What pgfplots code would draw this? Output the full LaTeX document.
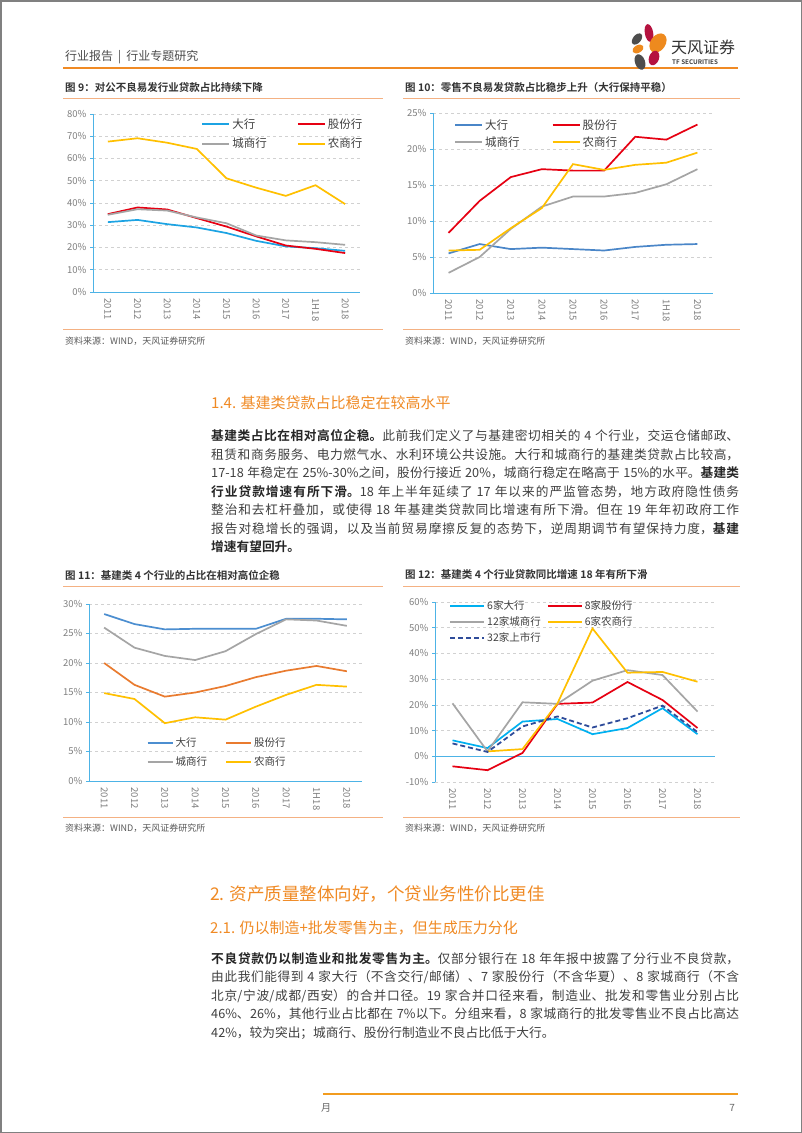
\documentclass[border=0pt]{standalone}
\usepackage{pgfplots}
\pgfplotsset{compat=1.18}
\usepackage{fontspec}
\setmainfont{Noto Sans CJK SC}[BoldFont={Noto Sans CJK SC Bold}]
\XeTeXlinebreaklocale "zh"
\XeTeXlinebreakskip=0pt plus 1.5pt
\definecolor{axblue}{HTML}{4DB3E6}
\definecolor{labgray}{HTML}{7F7F7F}
\definecolor{txtgray}{HTML}{404040}
\definecolor{hdorange}{HTML}{F08A24}
\definecolor{sepor}{HTML}{F4B183}
\definecolor{cBlue9}{HTML}{1CA3E3}
\definecolor{cBlue}{HTML}{4A86C8}
\definecolor{cBlue11}{HTML}{4C8ED0}
\definecolor{cCyan}{HTML}{00B0F0}
\definecolor{cRed}{HTML}{E60012}
\definecolor{cGray}{HTML}{A5A5A5}
\definecolor{cYel}{HTML}{FFC000}
\definecolor{cOra}{HTML}{E97B2F}
\definecolor{cNavy}{HTML}{2F4C9A}
\definecolor{lgDark}{HTML}{4D4D4D}
\definecolor{lgCrim}{HTML}{B5123F}
\definecolor{lgOra}{HTML}{EE8A1E}
\pgfplotsset{
  pagechart/.style={
    scale only axis, anchor=south west,
    axis lines=left, axis line style={axblue, line width=0.9pt, -},
    ymajorgrids, grid style={dashed, black!18, line width=0.6pt},
    ytick style={axblue, line width=0.7pt}, major tick length=3pt, tick align=outside,
    xtick style={draw=none},
    minor x tick style={axblue, line width=0.7pt}, minor tick length=4pt,
    ticklabel style={font=\fontsize{9.5}{10}\selectfont, text=labgray},
    /pgf/number format/assume math mode=true,
    x tick label style={rotate=-90, anchor=west},
    yticklabel={\pgfmathprintnumber{\tick}\%},
    legend cell align=left,
    legend style={draw=none, fill=none, inner sep=0pt, text=txtgray},
    every axis plot/.append style={line width=1.7pt, no marks},
  }
}
\newcommand\B[1]{{\bfseries\color{black!85}#1}}
\newcommand\parafont{\fontsize{12.7}{18.5}\selectfont\spaceskip=0.28em plus 0.05em minus 0.05em\relax}
\tikzset{para/.style={anchor=north west, inner sep=0pt, text width=528pt, align=justify, text=txtgray}}
\begin{document}
\begin{tikzpicture}[x=1pt,y=-1pt]
\path[use as bounding box] (0,0) rectangle (802,1133);
\fill[white] (0,0) rectangle (802,1133);
\draw[black!50, line width=1.5pt] (0.75,0.75) rectangle (801.25,1132.25);
% header
\node[anchor=west, inner sep=0pt, text=black!70, font=\fontsize{12}{13}\selectfont] at (65,57) {行业报告\hspace{5pt}|\hspace{5pt}行业专题研究};
\draw[hdorange, line width=1.3pt] (63,68) -- (738,68);
% logo
\fill[lgCrim, rotate around={10:(649,33)}] (649,33) ellipse (4.2 and 9);
\fill[lgDark, rotate around={-40:(637,39)}] (637,39) ellipse (4 and 6.5);
\fill[lgOra, rotate around={-35:(658,43)}] (658,43) ellipse (7.5 and 10.5);
\fill[lgOra, rotate around={-60:(638,49)}] (638,49) ellipse (3.8 and 6);
\fill[lgDark, rotate around={20:(640,62)}] (640,62) ellipse (5 and 8);
\fill[lgCrim, rotate around={-20:(654,58)}] (654,58) ellipse (5 and 7.5);
\node[anchor=west, inner sep=0pt, text=black!80, font=\fontsize{16}{17}\selectfont] at (671,47) {天风证券};
\node[anchor=west, inner sep=0pt, text=black!75, font=\bfseries\fontsize{6.3}{7}\selectfont] at (672,62) {TF SECURITIES};
% ---------- chart 9 ----------
\node[anchor=west, inner sep=0pt, text=black!80, font=\bfseries\fontsize{10.5}{11}\selectfont] at (65,88) {图 9：对公不良易发行业贷款占比持续下降};
\draw[sepor, line width=0.8pt] (63,98) -- (383,98);
\draw[sepor, line width=0.8pt] (63,329) -- (383,329);
\node[anchor=west, inner sep=0pt, text=black!65, font=\fontsize{9}{10}\selectfont] at (65,341) {资料来源：WIND，天风证券研究所};
\begin{axis}[pagechart, at={(93pt,-292pt)}, width=267pt, height=178pt,
  xmin=-0.5, xmax=8.5, ymin=0, ymax=80, ytick={0,10,...,80},
  xtick={0,...,8}, xticklabels={2011,2012,2013,2014,2015,2016,2017,1H18,2018},
  minor xtick={-0.5,0.5,...,8.5},
  legend columns=2,
  legend style={at={(0.405,0.985)}, anchor=north west, font=\fontsize{11.5}{12}\selectfont,
    /tikz/every even column/.append style={column sep=28pt}, row sep=4pt},
  legend image code/.code={\draw[line width=2pt,#1] (0pt,0pt) -- (27pt,0pt);}]
\addplot[cBlue9] coordinates {(0,31.4)(1,32.4)(2,30.5)(3,29.0)(4,26.5)(5,23.0)(6,20.5)(7,19.7)(8,18.5)};
\addlegendentry{大行}
\addplot[cRed] coordinates {(0,35.0)(1,38.0)(2,37.1)(3,33.2)(4,29.4)(5,25.0)(6,20.9)(7,19.4)(8,17.5)};
\addlegendentry{股份行}
\addplot[cGray] coordinates {(0,34.7)(1,37.2)(2,36.6)(3,33.5)(4,30.9)(5,25.4)(6,23.2)(7,22.4)(8,21.2)};
\addlegendentry{城商行}
\addplot[cYel] coordinates {(0,67.6)(1,69.1)(2,67.1)(3,64.3)(4,51.1)(5,46.9)(6,43.2)(7,48.0)(8,39.5)};
\addlegendentry{农商行}
\end{axis}
% ---------- chart 10 ----------
\node[anchor=west, inner sep=0pt, text=black!80, font=\bfseries\fontsize{10.5}{11}\selectfont] at (405,88) {图 10：零售不良易发贷款占比稳步上升（大行保持平稳）};
\draw[sepor, line width=0.8pt] (403,98) -- (740,98);
\draw[sepor, line width=0.8pt] (403,329) -- (740,329);
\node[anchor=west, inner sep=0pt, text=black!65, font=\fontsize{9}{10}\selectfont] at (405,341) {资料来源：WIND，天风证券研究所};
\begin{axis}[pagechart, at={(433pt,-293pt)}, width=280pt, height=180pt,
  xmin=-0.5, xmax=8.5, ymin=0, ymax=25, ytick={0,5,...,25},
  xtick={0,...,8}, xticklabels={2011,2012,2013,2014,2015,2016,2017,1H18,2018},
  minor xtick={-0.5,0.5,...,8.5},
  legend columns=2,
  legend style={at={(0.075,0.975)}, anchor=north west, font=\fontsize{11.5}{12}\selectfont,
    /tikz/every even column/.append style={column sep=30pt}, row sep=1.5pt},
  legend image code/.code={\draw[line width=2pt,#1] (0pt,0pt) -- (27pt,0pt);}]
\addplot[cBlue] coordinates {(0,5.5)(1,6.8)(2,6.1)(3,6.3)(4,6.1)(5,5.9)(6,6.4)(7,6.7)(8,6.8)};
\addlegendentry{大行}
\addplot[cRed] coordinates {(0,8.35)(1,12.8)(2,16.1)(3,17.2)(4,17.0)(5,17.0)(6,21.7)(7,21.3)(8,23.4)};
\addlegendentry{股份行}
\addplot[cGray] coordinates {(0,2.8)(1,5.0)(2,8.9)(3,12.0)(4,13.4)(5,13.4)(6,13.9)(7,15.1)(8,17.2)};
\addlegendentry{城商行}
\addplot[cYel] coordinates {(0,5.9)(1,6.0)(2,9.0)(3,11.8)(4,17.9)(5,17.1)(6,17.8)(7,18.1)(8,19.5)};
\addlegendentry{农商行}
\end{axis}
% ---------- section 1.4 ----------
\node[anchor=west, inner sep=0pt, text=hdorange, font=\fontsize{15}{16}\selectfont] at (211,403) {1.4. 基建类贷款占比稳定在较高水平};
\node[para] at (211,429.5) {\parafont\B{基建类占比在相对高位企稳。}此前我们定义了与基建密切相关的 4 个行业，交运仓储邮政、\linebreak
租赁和商务服务、电力燃气水、水利环境公共设施。大行和城商行的基建类贷款占比较高，\linebreak
17-18 年稳定在 25\%-30\%之间，股份行接近 20\%，城商行稳定在略高于 15\%的水平。\B{基建类}\linebreak
\B{行业贷款增速有所下滑。}18 年上半年延续了 17 年以来的严监管态势，地方政府隐性债务\linebreak
整治和去杠杆叠加，或使得 18 年基建类贷款同比增速有所下滑。但在 19 年年初政府工作\linebreak
报告对稳增长的强调，以及当前贸易摩擦反复的态势下，逆周期调节有望保持力度，\B{基建}\linebreak
\B{增速有望回升。}\par};
% ---------- chart 11 ----------
\node[anchor=west, inner sep=0pt, text=black!80, font=\bfseries\fontsize{10.5}{11}\selectfont] at (65,575) {图 11：基建类 4 个行业的占比在相对高位企稳};
\draw[sepor, line width=0.8pt] (63,586) -- (383,586);
\draw[sepor, line width=0.8pt] (63,817) -- (383,817);
\node[anchor=west, inner sep=0pt, text=black!65, font=\fontsize{9}{10}\selectfont] at (65,828) {资料来源：WIND，天风证券研究所};
\begin{axis}[pagechart, at={(89pt,-781pt)}, width=273pt, height=177pt,
  xmin=-0.5, xmax=8.5, ymin=0, ymax=30, ytick={0,5,...,30},
  xtick={0,...,8}, xticklabels={2011,2012,2013,2014,2015,2016,2017,1H18,2018},
  minor xtick={-0.5,0.5,...,8.5},
  legend columns=2,
  legend style={at={(0.21,0.255)}, anchor=north west, font=\fontsize{10.5}{11}\selectfont,
    /tikz/every even column/.append style={column sep=16pt}, row sep=4pt},
  legend image code/.code={\draw[line width=2pt,#1] (0pt,0pt) -- (25pt,0pt);}]
\addplot[cBlue11] coordinates {(0,28.3)(1,26.6)(2,25.7)(3,25.8)(4,25.8)(5,25.8)(6,27.5)(7,27.5)(8,27.4)};
\addlegendentry{大行}
\addplot[cOra] coordinates {(0,20.0)(1,16.3)(2,14.3)(3,15.0)(4,16.1)(5,17.6)(6,18.7)(7,19.5)(8,18.6)};
\addlegendentry{股份行}
\addplot[cGray] coordinates {(0,26.0)(1,22.6)(2,21.2)(3,20.5)(4,22.0)(5,24.9)(6,27.4)(7,27.2)(8,26.3)};
\addlegendentry{城商行}
\addplot[cYel] coordinates {(0,14.9)(1,13.9)(2,9.8)(3,10.8)(4,10.4)(5,12.6)(6,14.6)(7,16.3)(8,16.0)};
\addlegendentry{农商行}
\end{axis}
% ---------- chart 12 ----------
\node[anchor=west, inner sep=0pt, text=black!80, font=\bfseries\fontsize{10.5}{11}\selectfont] at (405,575) {图 12：基建类 4 个行业贷款同比增速 18 年有所下滑};
\draw[sepor, line width=0.8pt] (403,586) -- (740,586);
\draw[sepor, line width=0.8pt] (403,817) -- (740,817);
\node[anchor=west, inner sep=0pt, text=black!65, font=\fontsize{9}{10}\selectfont] at (405,828) {资料来源：WIND，天风证券研究所};
\begin{axis}[pagechart, at={(435pt,-782pt)}, width=280pt, height=180pt,
  xmin=-0.5, xmax=7.5, ymin=-10, ymax=60, ytick={-10,0,...,60},
  xtick={0,...,7}, xticklabels={2011,2012,2013,2014,2015,2016,2017,2018},
  x axis line style={draw=none},
  legend columns=2,
  legend style={at={(0.05,1.02)}, anchor=north west, font=\fontsize{10.5}{11}\selectfont,
    /tikz/every even column/.append style={column sep=4pt}, row sep=1.5pt},
  legend image code/.code={\draw[line width=2pt,#1] (0pt,0pt) -- (34pt,0pt);}]
\draw[axblue, line width=0.9pt] (axis cs:-0.5,0) -- (axis cs:7.5,0);
\addplot[cCyan] coordinates {(0,6.2)(1,3.2)(2,13.5)(3,14.5)(4,8.6)(5,11.0)(6,18.7)(7,8.6)};
\addlegendentry{6家大行}
\addplot[cRed] coordinates {(0,-3.9)(1,-5.4)(2,1.3)(3,20.4)(4,20.9)(5,28.9)(6,21.9)(7,11.0)};
\addlegendentry{8家股份行}
\addplot[cGray] coordinates {(0,20.6)(1,1.9)(2,21.0)(3,20.4)(4,29.4)(5,33.5)(6,31.6)(7,17.4)};
\addlegendentry{12家城商行}
\addplot[cYel] coordinates {(1,1.9)(2,2.8)(3,20.6)(4,49.7)(5,32.5)(6,32.8)(7,29.0)};
\addlegendentry{6家农商行}
\addplot[cNavy, dash pattern=on 5pt off 3pt, line width=1.8pt] coordinates {(0,5.0)(1,1.7)(2,11.6)(3,15.5)(4,11.2)(5,14.8)(6,19.7)(7,9.4)};
\addlegendentry{32家上市行}
\end{axis}
% ---------- section 2 ----------
\node[anchor=west, inner sep=0pt, text=hdorange, font=\fontsize{17.5}{19}\selectfont] at (210,894) {2. 资产质量整体向好，个贷业务性价比更佳};
\node[anchor=west, inner sep=0pt, text=hdorange, font=\fontsize{15}{16}\selectfont] at (210,928) {2.1. 仍以制造+批发零售为主，但生成压力分化};
\node[para] at (211,952) {\parafont\B{不良贷款仍以制造业和批发零售为主。}仅部分银行在 18 年年报中披露了分行业不良贷款，\linebreak
由此我们能得到 4 家大行（不含交行/邮储）、7 家股份行（不含华夏）、8 家城商行（不含\linebreak
北京/宁波/成都/西安）的合并口径。19 家合并口径来看，制造业、批发和零售业分别占比\linebreak
46\%、26\%，其他行业占比都在 7\%以下。分组来看，8 家城商行的批发零售业不良占比高达\linebreak
42\%，较为突出；城商行、股份行制造业不良占比低于大行。\par};
% footer
\draw[hdorange!85!yellow, line width=1.5pt] (323,1094) -- (738,1094);
\node[anchor=west, inner sep=0pt, text=black!60, font=\fontsize{10}{11}\selectfont] at (321,1108) {月};
\node[anchor=east, inner sep=0pt, text=black!60, font=\fontsize{10}{11}\selectfont] at (735,1108) {7};
\end{tikzpicture}
\end{document}
